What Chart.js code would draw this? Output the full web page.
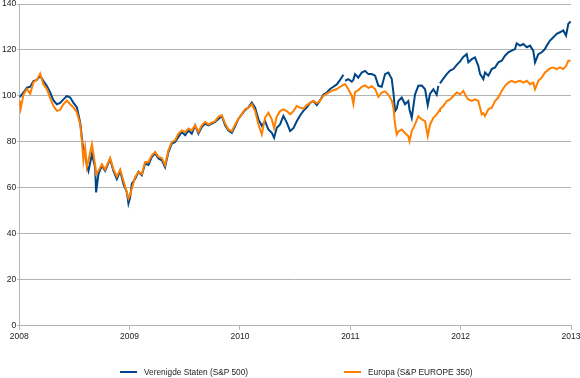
<!DOCTYPE html>
<html>
<head>
<meta charset="utf-8">
<script src="https://cdn.jsdelivr.net/npm/chart.js@4.4.0/dist/chart.umd.min.js"></script>
<style>
  body { margin: 0; background: #fff; }
  #wrap { position: relative; width: 580px; height: 378px; }
  #legend { position: absolute; left: 0; top: 366px; width: 580px; height: 12px; font-family: "Liberation Sans", Arial, sans-serif; font-size: 8.3px; color: #222; }
  .legItem { position: absolute; top: 0; white-space: nowrap; line-height: 12px; }
  .legLine { display: inline-block; width: 17px; height: 2px; vertical-align: middle; margin-right: 7px; margin-top: -1px; }
</style>
</head>
<body>
<div id="wrap">
  <canvas id="chart1" width="580" height="378"></canvas>
  <div id="legend"></div>
</div>
<script>
// decimal years (2008.0 = 1 Jan 2008)
var years = [2008.005, 2008.014, 2008.039, 2008.070, 2008.100, 2008.130, 2008.160, 2008.190, 2008.220, 2008.251,
  2008.281, 2008.311, 2008.341, 2008.371, 2008.401, 2008.432, 2008.462, 2008.492, 2008.523, 2008.553,
  2008.568, 2008.582, 2008.598, 2008.613, 2008.628, 2008.659, 2008.688, 2008.697, 2008.718, 2008.749,
  2008.779, 2008.824, 2008.854, 2008.885, 2008.915, 2008.945, 2008.976, 2008.990, 2009.005, 2009.021,
  2009.051, 2009.081, 2009.111, 2009.141, 2009.171, 2009.202, 2009.232, 2009.262, 2009.293, 2009.322,
  2009.352, 2009.383, 2009.413, 2009.443, 2009.474, 2009.504, 2009.534, 2009.564, 2009.594, 2009.624,
  2009.655, 2009.685, 2009.715, 2009.745, 2009.775, 2009.805, 2009.836, 2009.866, 2009.896, 2009.927,
  2009.957, 2009.986, 2010.017, 2010.047, 2010.077, 2010.108, 2010.138, 2010.168, 2010.198, 2010.228,
  2010.258, 2010.289, 2010.310, 2010.334, 2010.364, 2010.394, 2010.425, 2010.455, 2010.485, 2010.515,
  2010.545, 2010.575, 2010.606, 2010.636, 2010.666, 2010.697, 2010.726, 2010.756, 2010.787, 2010.817,
  2010.847, 2010.878, 2010.908, 2010.938, 2010.946, 2010.953, 2010.983, 2011.014, 2011.028, 2011.043,
  2011.073, 2011.104, 2011.134, 2011.164, 2011.195, 2011.225, 2011.255, 2011.285, 2011.315, 2011.345,
  2011.376, 2011.392, 2011.406, 2011.421, 2011.436, 2011.466, 2011.496, 2011.526, 2011.537, 2011.557,
  2011.587, 2011.617, 2011.648, 2011.678, 2011.702, 2011.723, 2011.753, 2011.783, 2011.798, 2011.804,
  2011.813, 2011.843, 2011.874, 2011.904, 2011.934, 2011.965, 2011.995, 2012.024, 2012.055, 2012.070,
  2012.101, 2012.130, 2012.160, 2012.176, 2012.191, 2012.206, 2012.221, 2012.251, 2012.282, 2012.312,
  2012.341, 2012.372, 2012.402, 2012.432, 2012.463, 2012.493, 2012.508, 2012.538, 2012.568, 2012.599,
  2012.629, 2012.658, 2012.674, 2012.704, 2012.735, 2012.764, 2012.780, 2012.810, 2012.840, 2012.870,
  2012.900, 2012.930, 2012.955, 2012.976, 2012.997]

// Verenigde Staten (S&P 500), index 2008 = 100
var usValues = [99.5, 100, 101.5, 103.6, 104, 106.5, 107, 108.7, 106.5, 104.3,
  101.5, 98, 96.4, 97, 98.5, 100, 99.3, 97, 95, 88.4,
  82, 76, 74.6, 70, 67.4, 74.6, 69, 58, 66, 69.6,
  67.4, 72.5, 67.4, 63.8, 67.4, 61.6, 58, 53.2, 55.8, 61.9,
  64, 67, 65.5, 70.6, 70, 73.5, 75, 72.8, 72, 69,
  75.6, 79.3, 80, 82.2, 84.3, 82.9, 85, 83.6, 87.2, 83.6,
  86.5, 88, 87.2, 88, 88.7, 90, 91.3, 87.2, 85, 84,
  86.9, 90, 92, 93.8, 95, 97.1, 94.9, 89.8, 87, 89,
  85.4, 84, 81.8, 86.2, 87.6, 91.3, 88.4, 84.7, 86, 89,
  91.5, 93.5, 95, 97, 97.8, 96, 98, 100.5, 101.5, 103,
  104, 105, 107, 109.2, null, 106.6, 107.3, 106.2, 107, 109.5,
  108, 110.2, 110.9, 109.5, 109.5, 108.8, 104.4, 104, 109.5, 110.2,
  107.3, 101, 93.4, 94.5, 97.8, 99.3, 96.4, 97.8, 94, 90.5,
  100.7, 104.4, 104.5, 102.9, 96, 101, 102.9, 100.5, 104.4, null,
  105.5, 107.5, 109.5, 111, 111.7, 113.5, 115, 117, 118.2, 114.6,
  116, 116.8, 113.1, 109.5, 108.5, 107.3, 110.2, 108.8, 111.7, 112.4,
  114.6, 115.3, 117.5, 119, 119.7, 120.4, 122.9, 121.9, 122.6, 121.2,
  121.9, 119.7, 114.6, 118.2, 119, 120.4, 121.9, 124.1, 125.5, 127,
  127.7, 128.5, 126.3, 131.4, 132.4]

// Europa (S&P EUROPE 350), index 2008 = 100
var euValues = [98, 94.5, 100.7, 103, 101, 106, 107, 109.7, 105, 103,
  99, 95.6, 93.5, 94, 96.4, 98, 96.4, 95, 92.8, 87.7,
  80.4, 72, 77.5, 69, 72, 79, 70, 66, 67.4, 70.3,
  68, 73, 68, 65, 68, 63, 58, 55.4, 57, 59.7,
  64.8, 67, 66, 71.3, 71.3, 74.2, 75.7, 73.5, 73, 69.9,
  76.4, 80, 80.7, 83.6, 85, 84.3, 85.8, 85, 87.2, 84.3,
  87.2, 88.7, 87.6, 88.4, 89, 90.9, 91.6, 88, 85.4, 84.7,
  87.6, 90, 92, 94.2, 94.9, 96.4, 93.4, 87.6, 83.3, 90.5,
  92.7, 89.8, 86, 91, 93.4, 94.2, 93.4, 92, 93.4, 95.6,
  94.9, 94.5, 96, 97, 97.8, 96.8, 98, 100, 101, 101.8,
  102.5, 103, 104, 104.8, 105, 105.1, 102.9, 100, 96.5, 101.7,
  102.5, 104, 104.6, 103.5, 104.2, 103, 99.6, 101.5, 102, 100.5,
  98, 94.5, 87.6, 83.2, 84.5, 85.4, 83.9, 82.5, 80.3, 84.7,
  87.6, 91.2, 89.8, 89, 82.5, 87.6, 90.5, 92, 93, 93.5,
  94.2, 95.6, 97.8, 98.5, 100, 101.5, 100.7, 102.2, 99.3, 98.5,
  97.8, 98.5, 97.8, 94.9, 92, 92.5, 91.2, 94.2, 94.9, 97.8,
  99.3, 102.2, 104.4, 105.8, 106.6, 105.8, 106.2, 106.6, 105.8, 106.6,
  105.1, 105.8, 102.9, 106.6, 108, 110.2, 110.8, 112, 112.4, 111.7,
  112.4, 111.7, 113, 115.3, 115.3]

var seriesNames = ["Verenigde Staten (S&P 500)", "Europa (S&P EUROPE 350)"]
var seriesColors = ["#004586", "#ff8000"]
var yTicks = [0, 20, 40, 60, 80, 100, 120, 140]
var xTicks = [2008, 2009, 2010, 2011, 2012, 2013]

function toPoints(values) {
  return years.map((yr, i) => ({ x: yr, y: values[i] }))
}

function buildLegend(datasets) {
  var legend = document.getElementById("legend")
  var lefts = [120, 344]
  for (let i = 0; i < datasets.length; i++) {
    var item = document.createElement("span")
    item.className = "legItem"
    item.style.left = lefts[i] + "px"
    item.innerHTML = `<span class="legLine" style="background:${datasets[i].borderColor}"></span>${datasets[i].label}`
    legend.appendChild(item)
  }
}

var gridColor = "#b3b3b3"
var tickFont = { family: "'Liberation Sans', Arial, sans-serif", size: 8.5 }

var datasets = [{
  label: seriesNames[0],
  data: toPoints(usValues),
  borderColor: seriesColors[0],
  backgroundColor: seriesColors[0],
  borderWidth: 2,
  pointRadius: 0,
  spanGaps: false,
  order: 2
}, {
  label: seriesNames[1],
  data: toPoints(euValues),
  borderColor: seriesColors[1],
  backgroundColor: seriesColors[1],
  borderWidth: 2,
  pointRadius: 0,
  spanGaps: false,
  order: 1
}]

var c1 = document.getElementById("chart1").getContext('2d')
var lineChart = new Chart(c1, {
  type: "line",
  data: { datasets: datasets },
  options: {
    responsive: false,
    animation: false,
    layout: { padding: { left: 1, right: 0, top: 0, bottom: 34 } },
    plugins: {
      legend: { display: false },
      tooltip: { enabled: false }
    },
    scales: {
      x: {
        type: "linear",
        min: xTicks[0],
        max: xTicks[xTicks.length - 1],
        afterBuildTicks: axis => { axis.ticks = xTicks.map(v => ({ value: v })) },
        // let the last label run to the edge like the original
        afterFit: axis => { axis.paddingRight = 9 },
        ticks: {
          color: "#222",
          font: tickFont,
          padding: 2,
          maxRotation: 0,
          callback: v => String(v)
        },
        grid: { drawOnChartArea: false, drawTicks: true, tickLength: 4, color: gridColor },
        border: { color: gridColor }
      },
      y: {
        min: yTicks[0],
        max: yTicks[yTicks.length - 1],
        afterBuildTicks: axis => { axis.ticks = yTicks.map(v => ({ value: v })) },
        afterFit: axis => { axis.paddingTop = 4 },
        ticks: { color: "#222", font: tickFont, padding: 1 },
        grid: { color: gridColor, tickLength: 2 },
        border: { color: gridColor }
      }
    }
  }
})

buildLegend(datasets)
</script>
</body>
</html>
